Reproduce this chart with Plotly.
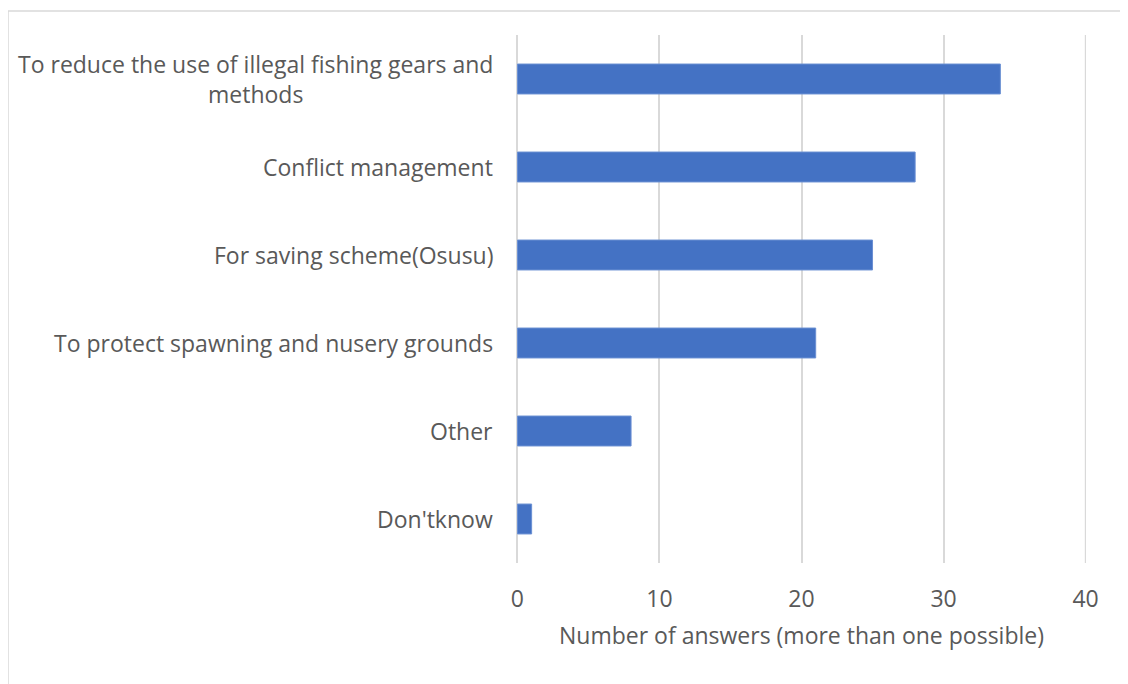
import plotly.graph_objects as go

categories = [
    "To reduce the use of illegal fishing gears and<br>methods",
    "Conflict management",
    "For saving scheme(Osusu)",
    "To protect spawning and nusery grounds",
    "Other",
    "Don'tknow",
]
values = [34, 28, 25, 21, 8, 1]
x_ticks = [0, 10, 20, 30, 40]
x_title = "Number of answers (more than one possible)"

W, H = 1128, 684
OFF = 8  # page body margin
L, R, T, B = 517 - OFF, 1086 - OFF, 35 - OFF, 563 - OFF
pw, ph = R - L, B - T

FONT = "Open Sans"
FS = 23
GREY = "#595959"
GRID = "#d9d9d9"

fig = go.Figure()
fig.add_trace(go.Bar(
    y=categories, x=values, orientation="h",
    marker=dict(color="#4472C4", line=dict(color="#6a8fd3", width=1)),
    width=0.34,
))

annotations = []
for c in categories:
    annotations.append(dict(
        x=0, xref="x domain", y=c, yref="y", text=c, showarrow=False,
        xanchor="right", yanchor="middle", xshift=-22, align="center",
        font=dict(family=FONT, size=FS, color=GREY),
    ))

shapes = [dict(
    type="rect", xref="paper", yref="paper",
    x0=(8 - OFF - L) / pw, x1=(W + 5 - L) / pw,
    y0=(B - (H + 5)) / ph, y1=(B - (11 - OFF)) / ph,
    line=dict(color=GRID, width=1.5), fillcolor="rgba(0,0,0,0)", layer="below",
)]
# gridline at the right edge of the range (plotly skips edge gridlines)
shapes.append(dict(
    type="line", xref="x", yref="paper", x0=x_ticks[-1], x1=x_ticks[-1], y0=0, y1=1,
    line=dict(color=GRID, width=1.5), layer="below",
))

fig.update_layout(
    width=W, height=H,
    margin=dict(l=L, r=W - R, t=T, b=H - B, autoexpand=False),
    paper_bgcolor="white", plot_bgcolor="white",
    showlegend=False,
    font=dict(family=FONT, size=FS, color=GREY),
    bargap=0.66,
    annotations=annotations,
    shapes=shapes,
    xaxis=dict(
        range=[-0.03, 40.03], tickvals=x_ticks, ticktext=[str(t) for t in x_ticks],
        showgrid=True, gridcolor=GRID, gridwidth=1.5,
        zeroline=True, zerolinecolor=GRID, zerolinewidth=1.5, showline=False,
        ticks="", ticklabelstandoff=20,
        tickfont=dict(family=FONT, size=FS, color=GREY),
        title=dict(text=x_title, standoff=14, font=dict(family=FONT, size=FS, color=GREY)),
    ),
    yaxis=dict(
        categoryorder="array", categoryarray=categories[::-1],
        showticklabels=False, showgrid=False, zeroline=False, showline=False,
        range=[-0.5, len(categories) - 0.5],
    ),
)

fig.write_html("out.html")
